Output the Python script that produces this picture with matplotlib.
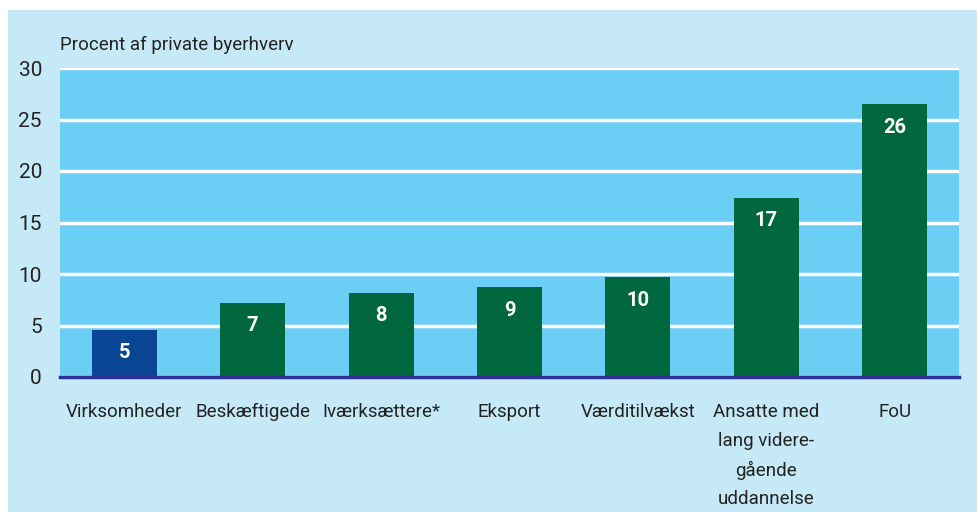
import matplotlib
matplotlib.use("Agg")
import matplotlib.pyplot as plt
from matplotlib.patches import Rectangle

categories = ["Virksomheder", "Beskæftigede", "Iværksættere*", "Eksport",
              "Værditilvækst", "Ansatte med\nlang videre-\ngående\nuddannelse", "FoU"]
values = [4.6, 7.2, 8.2, 8.7, 9.7, 17.4, 26.5]
labels = ["5", "7", "8", "9", "10", "17", "26"]
bar_colors = ["#0a4595"] + ["#00673f"] * 6

plt.rcParams["font.family"] = ["Roboto", "DejaVu Sans"]

fig = plt.figure(figsize=(9.78, 5.12), dpi=100, facecolor="white")
# light blue panel behind everything
fig.patches.append(Rectangle((8 / 978, 0), 1, (512 - 10) / 512,
                             transform=fig.transFigure, facecolor="#c6e9f8",
                             edgecolor="none", zorder=-10))

ax = fig.add_axes([60 / 978, (512 - 377) / 512, (959 - 60) / 978, (377 - 68) / 512])
ax.set_facecolor("#6acef5")

x = range(len(categories))
ax.bar(x, values, width=0.506, color=bar_colors, zorder=3)
for i, (v, lab) in enumerate(zip(values, labels)):
    ax.annotate(lab, (i, v), xytext=(0, -23), textcoords="offset pixels",
                ha="center", va="center", color="white", fontsize=14.5, fontweight="bold", zorder=4)

ax.set_xlim(-0.5, len(categories) - 0.5)
ax.set_ylim(0, 30)
ax.set_yticks(range(0, 31, 5))
ax.yaxis.grid(True, color="white", linewidth=2.5, zorder=1)
ax.set_axisbelow(True)

for s in ["top", "right", "left"]:
    ax.spines[s].set_visible(False)
ax.spines["bottom"].set_color("#2e3192")
ax.spines["bottom"].set_linewidth(2.5)
ax.spines["bottom"].set_zorder(5)

ax.set_xticks(list(x))
ax.set_xticklabels(categories, fontsize=13.5, color="#222222", linespacing=1.74)
ax.tick_params(axis="x", length=0, pad=19)
ax.tick_params(axis="y", length=0, pad=13, labelsize=15, labelcolor="#222222")

fig.text(60 / 978, (512 - 45) / 512, "Procent af private byerhverv",
         fontsize=13.5, color="#222222", ha="left", va="center")

fig.savefig("out.png", dpi=100, facecolor=fig.get_facecolor())
